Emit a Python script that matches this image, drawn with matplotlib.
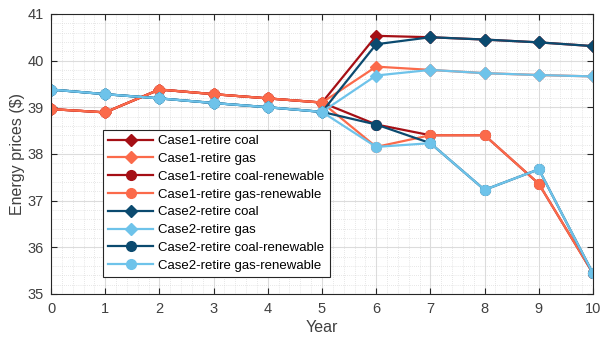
import matplotlib
matplotlib.use("Agg")
import matplotlib.pyplot as plt
from matplotlib.ticker import MultipleLocator

years = list(range(11))
labels = ["Case1-retire coal", "Case1-retire gas", "Case1-retire coal-renewable",
          "Case1-retire gas-renewable", "Case2-retire coal", "Case2-retire gas",
          "Case2-retire coal-renewable", "Case2-retire gas-renewable"]

case1_coal = [38.96, 38.89, 39.38, 39.28, 39.19, 39.10, 40.53, 40.50, 40.45, 40.39, 40.31]
case1_gas = [38.96, 38.89, 39.38, 39.28, 39.19, 39.10, 39.87, 39.80, 39.73, 39.69, 39.66]
case1_coal_ren = [38.96, 38.89, 39.38, 39.28, 39.19, 39.10, 38.63, 38.40, 38.40, 37.36, 35.44]
case1_gas_ren = [38.96, 38.89, 39.38, 39.28, 39.19, 39.10, 38.15, 38.40, 38.40, 37.36, 35.44]
case2_coal = [39.38, 39.28, 39.19, 39.09, 39.00, 38.90, 40.35, 40.50, 40.45, 40.39, 40.31]
case2_gas = [39.38, 39.28, 39.19, 39.09, 39.00, 38.90, 39.68, 39.80, 39.73, 39.69, 39.66]
case2_coal_ren = [39.38, 39.28, 39.19, 39.09, 39.00, 38.90, 38.63, 38.23, 37.23, 37.67, 35.44]
case2_gas_ren = [39.38, 39.28, 39.19, 39.09, 39.00, 38.90, 38.15, 38.23, 37.23, 37.67, 35.44]

series = [case1_coal, case1_gas, case1_coal_ren, case1_gas_ren,
          case2_coal, case2_gas, case2_coal_ren, case2_gas_ren]
colors = ["#A50F15", "#FB6A4A", "#A50F15", "#FB6A4A",
          "#0B4A6F", "#6EC3EA", "#0B4A6F", "#6EC3EA"]
markers = ["D", "D", "o", "o", "D", "D", "o", "o"]

plt.rcParams['font.family'] = ['Liberation Sans', 'DejaVu Sans']

fig = plt.figure(figsize=(6.03, 3.39), dpi=100)
ax = fig.add_axes([0.0846, 0.133, 0.8988, 0.826])

for ys, c, m, lab in zip(series, colors, markers, labels):
    ax.plot(years, ys, color=c, marker=m, lw=1.6,
            markersize=6 if m == "D" else 7, label=lab)

ax.set_xlim(0, 10)
ax.set_ylim(35, 41)
ax.xaxis.set_major_locator(MultipleLocator(1))
ax.yaxis.set_major_locator(MultipleLocator(1))
ax.xaxis.set_minor_locator(MultipleLocator(0.2))
ax.yaxis.set_minor_locator(MultipleLocator(0.2))
ax.grid(which='major', color='#dcdcdc', lw=0.8, ls='-')
ax.grid(which='minor', color='#d0d0d0', lw=0.5, ls=(0, (1, 2)))
ax.set_axisbelow(True)
ax.tick_params(which='both', direction='in', top=True, right=True,
               labelsize=10.5, colors='#262626', labelcolor='#404040')
ax.tick_params(axis='x', which='major', pad=6)
ax.tick_params(axis='y', which='major', pad=5)
ax.tick_params(which='minor', length=0)
ax.tick_params(which='major', length=4)
for s in ax.spines.values():
    s.set_color('#262626')
    s.set_linewidth(0.8)
ax.set_xlabel("Year", fontsize=11.5, color='#404040', labelpad=3)
ax.set_ylabel("Energy prices ($)", fontsize=11.5, color='#404040', labelpad=2)

leg = ax.legend(loc='upper left', bbox_to_anchor=(0.096, 0.586), fontsize=9.5,
                handlelength=3.4, labelspacing=0.42, borderpad=0.4,
                handletextpad=0.4, fancybox=False, framealpha=1,
                edgecolor='#262626', borderaxespad=0)
leg.get_frame().set_linewidth(0.8)

fig.savefig("out.png", dpi=100)
